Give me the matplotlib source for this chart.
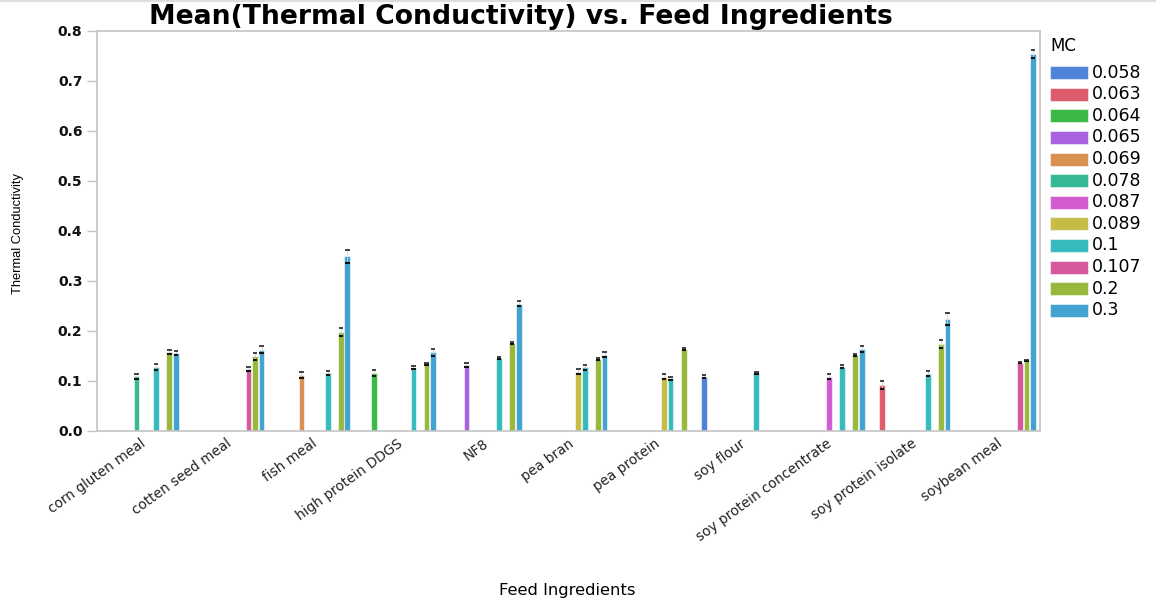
import numpy as np
import matplotlib
matplotlib.use("Agg")
import matplotlib.pyplot as plt
from matplotlib.patches import Rectangle

plt.rcParams["font.family"] = ["DejaVu Sans"]

ingredients = ["corn gluten meal", "cotten seed meal", "fish meal", "high protein DDGS",
               "NF8", "pea bran", "pea protein", "soy flour", "soy protein concentrate",
               "soy protein isolate", "soybean meal"]

mc_levels = ["0.058", "0.063", "0.064", "0.065", "0.069", "0.078",
             "0.087", "0.089", "0.1", "0.107", "0.2", "0.3"]

mc_colors = ["#4f82da", "#dc5b6c", "#3bb947", "#a862e0", "#d88f4f", "#35b893",
             "#d25bd2", "#c7bc45", "#35bbbd", "#d4589b", "#97b83b", "#42a3d1"]

# one entry per bar: ingredient, moisture content, mean, error half-width
bar_ingredient = ["corn gluten meal", "corn gluten meal", "corn gluten meal", "corn gluten meal",
                  "cotten seed meal", "cotten seed meal", "cotten seed meal",
                  "fish meal", "fish meal", "fish meal", "fish meal",
                  "high protein DDGS", "high protein DDGS", "high protein DDGS", "high protein DDGS",
                  "NF8", "NF8", "NF8", "NF8",
                  "pea bran", "pea bran", "pea bran", "pea bran",
                  "pea protein", "pea protein", "pea protein",
                  "soy flour", "soy flour",
                  "soy protein concentrate", "soy protein concentrate",
                  "soy protein concentrate", "soy protein concentrate",
                  "soy protein isolate", "soy protein isolate", "soy protein isolate",
                  "soy protein isolate",
                  "soybean meal", "soybean meal", "soybean meal"]
bar_mc = ["0.078", "0.1", "0.2", "0.3",
          "0.107", "0.2", "0.3",
          "0.069", "0.1", "0.2", "0.3",
          "0.064", "0.1", "0.2", "0.3",
          "0.065", "0.1", "0.2", "0.3",
          "0.089", "0.1", "0.2", "0.3",
          "0.089", "0.1", "0.2",
          "0.058", "0.1",
          "0.087", "0.1", "0.2", "0.3",
          "0.063", "0.1", "0.2", "0.3",
          "0.107", "0.2", "0.3"]
bar_mean = [0.110, 0.129, 0.158, 0.156,
            0.124, 0.150, 0.163,
            0.112, 0.116, 0.199, 0.350,
            0.117, 0.127, 0.135, 0.158,
            0.133, 0.147, 0.177, 0.255,
            0.119, 0.128, 0.145, 0.153,
            0.109, 0.106, 0.165,
            0.109, 0.117,
            0.109, 0.129, 0.152, 0.164,
            0.092, 0.115, 0.175, 0.225,
            0.137, 0.141, 0.755]
bar_err = [0.005, 0.006, 0.004, 0.004,
           0.004, 0.007, 0.007,
           0.006, 0.004, 0.008, 0.013,
           0.006, 0.003, 0.002, 0.007,
           0.004, 0.002, 0.002, 0.005,
           0.005, 0.005, 0.002, 0.005,
           0.005, 0.003, 0.002,
           0.003, 0.002,
           0.005, 0.003, 0.002, 0.006,
           0.008, 0.005, 0.008, 0.012,
           0.001, 0.001, 0.008]

W, H = 1156, 602
fig = plt.figure(figsize=(W / 100, H / 100), dpi=100)
ax = fig.add_axes([97 / W, 1 - 431 / H, (1040 - 97) / W, (431 - 31) / H])

slot = 0.0764
bw = slot * 0.88
grid_col = "#c4c4c4"

for ing, mc, m, e in zip(bar_ingredient, bar_mc, bar_mean, bar_err):
    ci = ingredients.index(ing)
    k = mc_levels.index(mc)
    x = ci + (k - 5.5) * slot
    ax.bar(x, m, width=bw, color=mc_colors[k], edgecolor=(1, 1, 1, 0.55),
           linewidth=0.8, zorder=2)
    ax.errorbar(x, m, yerr=e, fmt="none", ecolor="#d0d0d0", elinewidth=0.6,
                capsize=0, zorder=3)
    # dark caps at both ends of the interval
    ax.plot([x - bw * 0.38, x + bw * 0.38], [m - e, m - e], color="#111111", lw=1.5,
            zorder=4, solid_capstyle="butt")
    ax.plot([x - bw * 0.38, x + bw * 0.38], [m + e, m + e], color="#222222", lw=1.2,
            zorder=4, solid_capstyle="butt")

ax.set_xlim(-0.5, len(ingredients) - 0.5)
ax.set_ylim(0, 0.8)
yt = np.arange(0, 0.81, 0.1)
ax.set_yticks(yt)
ax.set_yticklabels([f"{v:.1f}" for v in yt], fontsize=10, fontweight="bold")
ax.set_xticks(range(len(ingredients)))
ax.set_xticklabels(ingredients, rotation=36, ha="right", va="top",
                   rotation_mode="anchor", fontsize=9.8)
ax.tick_params(axis="x", length=0, pad=4, labelcolor="#222222")
ax.tick_params(axis="y", length=7.5, width=1, color=grid_col, pad=3, labelcolor="#111111")
for s in ax.spines.values():
    s.set_color(grid_col)
    s.set_linewidth(1.2)

fig.text(521 / W, 1 - 16.5 / H, "Mean(Thermal Conductivity) vs. Feed Ingredients",
         ha="center", va="center", fontsize=19.2, fontweight="bold")

narrow = ["Liberation Sans Narrow", "Liberation Sans", "DejaVu Sans"]
fig.text(18 / W, 1 - 234 / H, "Thermal Conductivity", rotation=90, ha="center",
         va="center", fontsize=9.3, family=narrow)
fig.text(567 / W, 1 - 590 / H, "Feed Ingredients", ha="center", va="center",
         fontsize=11.8)

# colour key for moisture content
fig.text(1050 / W, 1 - 46 / H, "MC", ha="left", va="center", fontsize=12)
for i, (lab, col) in enumerate(zip(mc_levels, mc_colors)):
    yc = 72.7 + 21.6 * i
    fig.add_artist(Rectangle((1050 / W, 1 - (yc + 6.5) / H), 38 / W, 13 / H,
                             transform=fig.transFigure, facecolor=col,
                             edgecolor=(1, 1, 1, 0.5), linewidth=0.8))
    fig.text(1092 / W, 1 - yc / H, lab, ha="left", va="center", fontsize=12.5)

fig.add_artist(plt.Line2D([0, 1], [1 - 1 / H, 1 - 1 / H], color="#dddddd", lw=1.5))

fig.savefig("out.png", dpi=100)
